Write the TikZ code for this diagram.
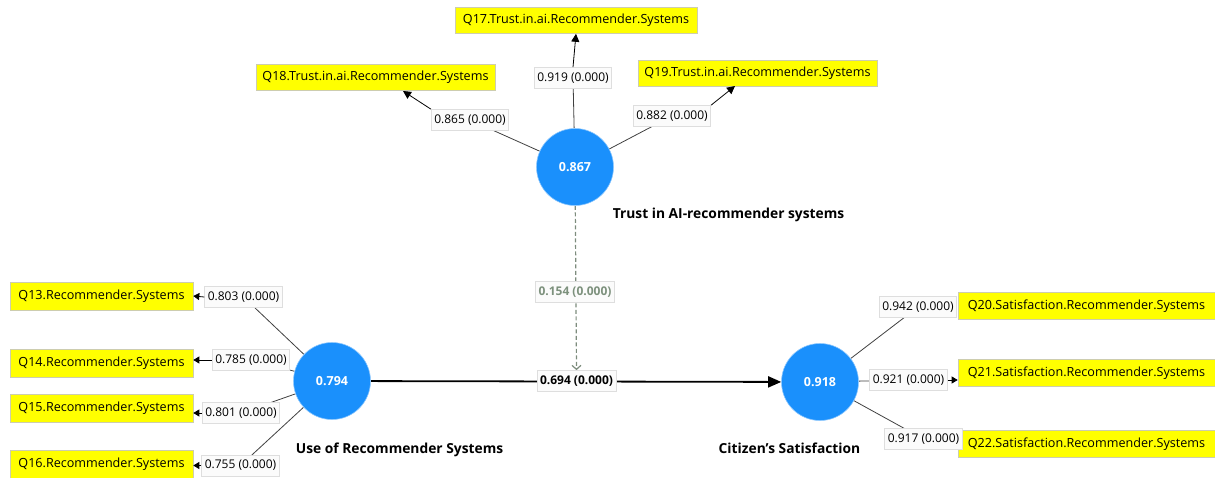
\documentclass[tikz,border=0pt]{standalone}
\usepackage{fontspec}
\setmainfont{Open Sans}
\usetikzlibrary{arrows.meta,backgrounds}
\definecolor{plsblue}{RGB}{26,144,252}
\definecolor{plsyellow}{RGB}{255,255,0}
\definecolor{yborder}{RGB}{205,205,175}
\definecolor{lborder}{RGB}{222,222,222}
\definecolor{lfill}{RGB}{251,251,251}
\definecolor{modcol}{RGB}{125,140,125}
\definecolor{modtext}{RGB}{125,145,125}
\tikzset{
  ind/.style={fill=plsyellow,draw=yborder,line width=0.6pt,minimum height=26,inner sep=0pt,font=\fontsize{12.6}{15}\selectfont},
  lbl/.style={fill=lfill,draw=lborder,line width=0.7pt,minimum height=21,inner sep=3pt,font=\fontsize{12}{14}\selectfont},
  lv/.style={circle,fill=plsblue,draw=plsblue!50!white,line width=0.6pt,minimum size=77,inner sep=0pt,text=white,font=\bfseries\fontsize{12.5}{15}\selectfont},
  cname/.style={font=\bfseries\fontsize{13.8}{16}\selectfont},
  ln/.style={draw=black!75,line width=0.8pt},
  tipline/.style={draw=black,line width=0.8pt,-{Triangle[length=8pt,width=8pt]}},
}
\begin{document}
\begin{tikzpicture}[x=1pt,y=-1pt]
\useasboundingbox (0,0) rectangle (1215,477);
% latent variables
\node[lv] (trust) at (575,167) {0.867};
\node[lv] (use) at (332,381) {0.794};
\node[lv] (sat) at (820,382) {0.918};
% construct names
\node[cname] (ntrust) at (728.5,215) {Trust in AI-recommender systems};
\node[cname] (nuse) at (399.5,450) {Use of Recommender Systems};
\node[cname] (nsat) at (789.5,448) {Citizen's Satisfaction};
% indicators
\node[ind,minimum width=242] (q17) at (576,20.5) {Q17.Trust.in.ai.Recommender.Systems};
\node[ind,minimum width=239] (q18) at (375.5,77.5) {Q18.Trust.in.ai.Recommender.Systems};
\node[ind,minimum width=239] (q19) at (757.5,73) {Q19.Trust.in.ai.Recommender.Systems};
\node[ind,minimum width=183,minimum height=28] (q13) at (101.5,296) {Q13.Recommender.Systems};
\node[ind,minimum width=183,minimum height=28] (q14) at (101.5,363) {Q14.Recommender.Systems};
\node[ind,minimum width=183,minimum height=28] (q15) at (101.5,408) {Q15.Recommender.Systems};
\node[ind,minimum width=183,minimum height=28] (q16) at (101.5,464) {Q16.Recommender.Systems};
\node[ind,minimum width=257,minimum height=27] (q20) at (1086.5,306) {Q20.Satisfaction.Recommender.Systems};
\node[ind,minimum width=257,minimum height=27] (q21) at (1086.5,373) {Q21.Satisfaction.Recommender.Systems};
\node[ind,minimum width=257,minimum height=27] (q22) at (1086.5,444) {Q22.Satisfaction.Recommender.Systems};
% loading labels
\node[lbl] (l17) at (573,78) {0.919 (0.000)};
\node[lbl] (l18) at (470,120) {0.865 (0.000)};
\node[lbl] (l19) at (672,116) {0.882 (0.000)};
\node[lbl] (l13) at (243.5,297) {0.803 (0.000)};
\node[lbl] (l14) at (251,360) {0.785 (0.000)};
\node[lbl] (l15) at (241,413) {0.801 (0.000)};
\node[lbl] (l16) at (240.5,465.5) {0.755 (0.000)};
\node[lbl] (l20) at (918,307) {0.942 (0.000)};
\node[lbl] (l21) at (908.5,380) {0.921 (0.000)};
\node[lbl] (l22) at (923.5,439) {0.917 (0.000)};
% path labels
\node[lbl,font=\bfseries\fontsize{12}{14}\selectfont] (p1) at (576.5,381) {0.694 (0.000)};
\node[lbl,font=\bfseries\fontsize{12}{14}\selectfont,text=modtext] (p2) at (575,292) {0.154 (0.000)};
\coordinate (t18) at (403,91);
\coordinate (t19) at (735,86);
\begin{pgfonlayer}{background}
  \draw[ln] (trust) -- (l17.center);
  \draw[ln] (trust) -- (l18.center);
  \draw[ln] (trust) -- (l19.center);
  \draw[ln] (use) -- (l13.center);
  \draw[ln] (use) -- (l14.center);
  \draw[ln] (use) -- (l15.center);
  \draw[ln] (use) -- (l16.center);
  \draw[ln] (sat) -- (l20.center);
  \draw[ln] (sat) -- (l21.center);
  \draw[ln] (sat) -- (l22.center);
  \draw[black,line width=1.8pt,-{Triangle[length=13pt,width=11pt]}] (use) -- (sat);
  \draw[modcol,line width=1.2pt,dash pattern=on 4pt off 2.5pt,-{Straight Barb[length=4pt,width=9pt]}] (trust) -- (p1.north);
\end{pgfonlayer}
\draw[tipline] (l17.north) -- (q17.south);
\draw[tipline] (l18.north west) -- (t18);
\draw[tipline] (l19.north east) -- (t19);
\draw[tipline,-{Triangle[length=6pt,width=7pt]}] (l13.west) -- (q13.east);
\draw[tipline,-{Triangle[length=6pt,width=7pt]}] (l14.west) -- (q14.east |- l14.west);
\draw[tipline,-{Triangle[length=6pt,width=7pt]}] (l15.west) -- (q15.east |- l15.west);
\draw[tipline,-{Triangle[length=6pt,width=7pt]}] (l16.west) -- (q16.east |- l16.west);
\draw[tipline,-{Triangle[length=6pt,width=7pt]}] (l21.east) -- (q21.west |- l21.east);
\end{tikzpicture}
\end{document}
